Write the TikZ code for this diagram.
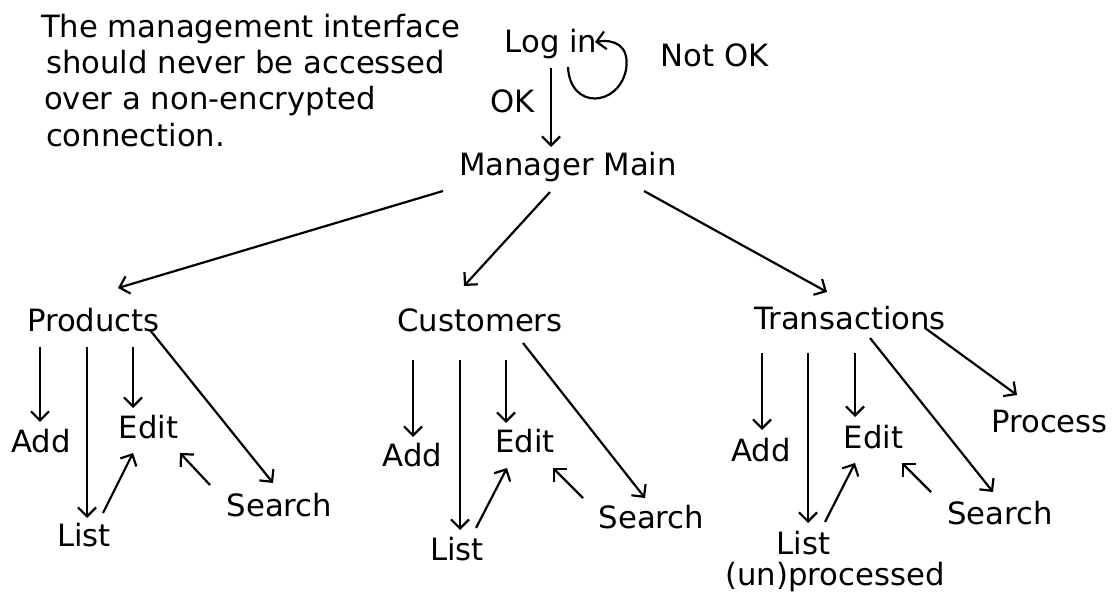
\documentclass[tikz,border=0pt]{standalone}
\usepackage{fontspec}
\setmainfont{DejaVu Sans}
\usetikzlibrary{arrows.meta,calc}

\begin{document}
\begin{tikzpicture}[x=1pt, y=-1pt, line width=2.2pt,
    >={Straight Barb[length=9pt,width=18pt]},
    lbl/.style={font=\fontsize{30.7}{36.3}\selectfont, inner sep=0pt, anchor=base}]
\useasboundingbox (0,0) rectangle (1117,593);

% Note
\node[lbl, anchor=north west, align=left] (note) at (40,12.7)
    {The management interface\\\hspace*{5pt}should never be accessed\\\hspace*{3pt}over a non-encrypted\\\hspace*{5pt}connection.};

% Log in
\node[lbl] (login) at (551,53) {Log in};
\node[lbl] (notok) at (714.5,67) {Not OK};
\node[lbl] (ok) at (512.5,113) {OK};
\node[lbl] (mm) at (568,176) {Manager Main};

\draw[->] ($(login.base)+(0,15)$) -- ($(mm.base)+(-17,-29)$);
\draw[->] ($(login.base)+(17,14)$) .. controls (570,110) and (618,107) .. (626,70)
    .. controls (630,45) and (614,39) .. ($(login.base)+(44,-11)$);

% Level 1
\node[lbl] (prod) at (93.5,332) {Products};
\node[lbl] (cust) at (480,332) {Customers};
\node[lbl] (trans) at (850,330) {Transactions};

\draw[->] ($(mm.base)+(-125,15)$) -- ($(prod.base)+(24.5,-44)$);
\draw[->] ($(mm.base)+(-18,16)$) -- ($(cust.base)+(-16,-46)$);
\draw[->] ($(mm.base)+(76,15)$) -- ($(trans.base)+(-23,-38)$);

% Level 2 - Products
\node[lbl] (padd) at (41,453) {Add};
\node[lbl] (pedit) at (148.5,439) {Edit};
\node[lbl] (plist) at (84,546) {List};
\node[lbl] (psearch) at (279.5,516) {Search};

\draw[->] ($(prod.base)+(-53.5,15)$) -- ($(padd.base)+(-1,-31)$);
\draw[->] ($(prod.base)+(-6.5,15)$) -- ($(plist.base)+(3,-28)$);
\draw[->] ($(prod.base)+(39.5,15)$) -- ($(pedit.base)+(-15.5,-31)$);
\draw[->] ($(prod.base)+(56.5,-2)$) -- ($(psearch.base)+(-6.5,-33)$);
\draw[->] ($(plist.base)+(19,-33)$) -- ($(pedit.base)+(-15.5,14)$);
\draw[->] ($(psearch.base)+(-69.5,-31)$) -- ($(pedit.base)+(31.5,14)$);

% Level 2 - Customers
\node[lbl] (cadd) at (412.5,467) {Add};
\node[lbl] (cedit) at (525,453) {Edit};
\node[lbl] (clist) at (457,560) {List};
\node[lbl] (csearch) at (651.5,529) {Search};

\draw[->] ($(cust.base)+(-67,28)$) -- ($(cadd.base)+(0.5,-30)$);
\draw[->] ($(cust.base)+(-20,28)$) -- ($(clist.base)+(3,-30)$);
\draw[->] ($(cust.base)+(26,28)$) -- ($(cedit.base)+(-19,-30)$);
\draw[->] ($(cust.base)+(43,11)$) -- ($(csearch.base)+(-6.5,-31)$);
\draw[->] ($(clist.base)+(19,-32)$) -- ($(cedit.base)+(-18,15)$);
\draw[->] ($(csearch.base)+(-68.5,-31)$) -- ($(cedit.base)+(28,15)$);

% Level 2 - Transactions
\node[lbl] (tadd) at (761,462) {Add};
\node[lbl] (tedit) at (873.5,449) {Edit};
\node[lbl, align=left] (tlist) at (835,585) {\hspace*{51pt}List\\[-6pt](un)processed};
\node[lbl] (tsearch) at (1000,524) {Search};
\node[lbl] (tproc) at (1049.5,432.5) {Process};

\draw[->] ($(trans.base)+(-88,23)$) -- ($(tadd.base)+(1,-32)$);
\draw[->] ($(trans.base)+(-42,23)$) -- ($(tlist.base)+(-27,-62)$);
\draw[->] ($(trans.base)+(5,23)$) -- ($(tedit.base)+(-18.5,-32)$);
\draw[->] ($(trans.base)+(20,8)$) -- ($(tsearch.base)+(-7,-32)$);
\draw[->] ($(trans.base)+(75,-2)$) -- ($(tproc.base)+(-32.5,-37.5)$);
\draw[->] ($(tlist.base)+(-10,-63)$) -- ($(tedit.base)+(-18.5,14)$);
\draw[->] ($(tsearch.base)+(-69,-32)$) -- ($(tedit.base)+(28.5,14)$);
\end{tikzpicture}
\end{document}
